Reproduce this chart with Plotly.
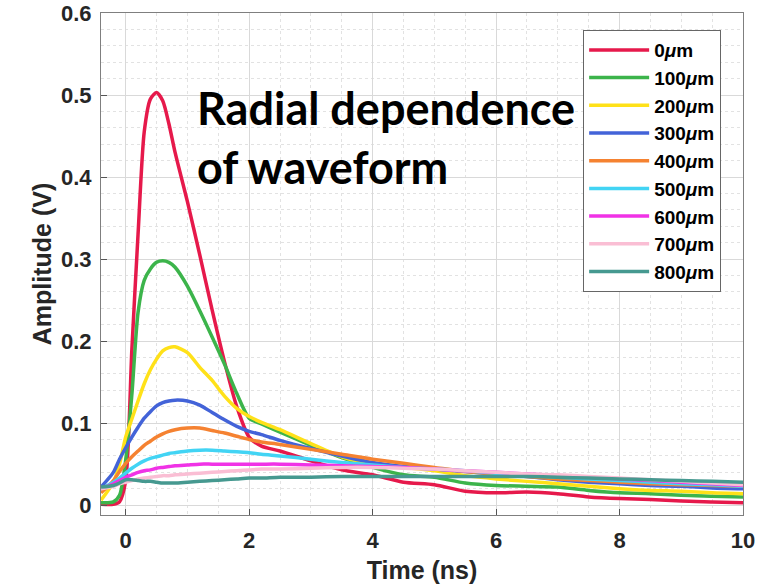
import plotly.graph_objects as go

time_ns = [-0.4, -0.2, -0.1, 0.0, 0.1, 0.2, 0.3, 0.4, 0.5, 0.6, 0.7, 0.8, 1.0, 1.2, 1.4, 1.6, 1.8,
           2.0, 2.2, 2.5, 3.0, 3.5, 4.0, 4.5, 5.0, 5.5, 6.0, 6.5, 7.0, 7.5, 8.0, 8.5, 9.0, 9.5, 10.0]

r0   = [0.001, 0.001, 0.004, 0.03, 0.19, 0.33, 0.455, 0.495, 0.503, 0.493, 0.465, 0.43, 0.37, 0.305, 0.238, 0.175, 0.12,
        0.083, 0.072, 0.066, 0.054, 0.043, 0.037, 0.028, 0.025, 0.017, 0.015, 0.016, 0.014, 0.010, 0.008, 0.007, 0.005, 0.004, 0.003]
r100 = [0.003, 0.004, 0.012, 0.055, 0.135, 0.235, 0.274, 0.288, 0.296, 0.298, 0.296, 0.290, 0.267, 0.237, 0.205, 0.172, 0.136,
        0.106, 0.099, 0.089, 0.073, 0.058, 0.046, 0.037, 0.034, 0.027, 0.024, 0.023, 0.022, 0.018, 0.015, 0.014, 0.012, 0.011, 0.010]
r200 = [0.006, 0.028, 0.05, 0.083, 0.105, 0.127, 0.148, 0.165, 0.178, 0.188, 0.192, 0.193, 0.186, 0.168, 0.152, 0.133, 0.118,
        0.108, 0.101, 0.092, 0.075, 0.059, 0.050, 0.046, 0.042, 0.036, 0.032, 0.029, 0.026, 0.023, 0.020, 0.018, 0.017, 0.015, 0.014]
r300 = [0.022, 0.04, 0.056, 0.070, 0.083, 0.095, 0.106, 0.114, 0.121, 0.125, 0.127, 0.128, 0.127, 0.122, 0.113, 0.104, 0.096,
        0.090, 0.086, 0.079, 0.069, 0.060, 0.052, 0.047, 0.044, 0.041, 0.038, 0.035, 0.031, 0.028, 0.026, 0.024, 0.023, 0.021, 0.020]
r400 = [0.015, 0.030, 0.041, 0.051, 0.059, 0.066, 0.073, 0.078, 0.083, 0.087, 0.090, 0.092, 0.094, 0.094, 0.091, 0.088, 0.084,
        0.080, 0.077, 0.074, 0.068, 0.062, 0.056, 0.051, 0.046, 0.041, 0.038, 0.035, 0.032, 0.030, 0.028, 0.026, 0.025, 0.024, 0.023]
r500 = [0.020, 0.028, 0.033, 0.039, 0.045, 0.050, 0.054, 0.057, 0.059, 0.061, 0.063, 0.064, 0.066, 0.067, 0.067, 0.066, 0.065,
        0.064, 0.062, 0.060, 0.056, 0.052, 0.049, 0.046, 0.044, 0.042, 0.039, 0.037, 0.034, 0.032, 0.030, 0.028, 0.026, 0.025, 0.023]
r600 = [0.020, 0.026, 0.030, 0.034, 0.037, 0.040, 0.042, 0.043, 0.045, 0.046, 0.047, 0.048, 0.049, 0.050, 0.050, 0.050, 0.050,
        0.050, 0.050, 0.050, 0.049, 0.048, 0.047, 0.046, 0.044, 0.042, 0.040, 0.038, 0.036, 0.034, 0.032, 0.030, 0.028, 0.026, 0.024]
r700 = [0.020, 0.023, 0.026, 0.028, 0.030, 0.032, 0.033, 0.034, 0.035, 0.036, 0.036, 0.037, 0.038, 0.039, 0.040, 0.041, 0.042,
        0.043, 0.044, 0.044, 0.045, 0.046, 0.046, 0.045, 0.044, 0.042, 0.040, 0.038, 0.037, 0.035, 0.033, 0.031, 0.029, 0.027, 0.025]
r800 = [0.022, 0.024, 0.027, 0.031, 0.031, 0.030, 0.029, 0.029, 0.028, 0.027, 0.027, 0.027, 0.028, 0.029, 0.030, 0.031, 0.032,
        0.033, 0.033, 0.034, 0.034, 0.035, 0.035, 0.035, 0.035, 0.035, 0.035, 0.035, 0.034, 0.033, 0.032, 0.031, 0.030, 0.029, 0.028]

series_values = [r0, r100, r200, r300, r400, r500, r600, r700, r800]
series_labels = ["0<i>μ</i>m", "100<i>μ</i>m", "200<i>μ</i>m", "300<i>μ</i>m", "400<i>μ</i>m",
                 "500<i>μ</i>m", "600<i>μ</i>m", "700<i>μ</i>m", "800<i>μ</i>m"]
series_colors = ["#e6194b", "#3cb44b", "#ffe119", "#4363d8", "#f58231",
                 "#42d4f4", "#f032e6", "#fabed4", "#469990"]

x_ticks = [0, 2, 4, 6, 8, 10]
y_ticks = [0, 0.1, 0.2, 0.3, 0.4, 0.5, 0.6]

fig = go.Figure()
for i, (vals, lab, col) in enumerate(zip(series_values, series_labels, series_colors)):
    fig.add_trace(go.Scatter(
        x=time_ns, y=vals, mode="lines", name=lab,
        line=dict(color=col, width=3.5, shape="spline", smoothing=0.7),
        legendgroup=f"g{i}",
    ))

FONT = "Liberation Sans, Arial"
axis_common = dict(
    showline=True, linecolor="#7f7f7f", linewidth=1, mirror=True,
    ticks="inside", ticklen=6, tickcolor="#555555",
    showgrid=True, gridcolor="#d9d9d9", gridwidth=1,
    zeroline=False, automargin=False,
    tickfont=dict(family=FONT, size=22, color="#262626", weight="bold"),
)

fig.update_xaxes(
    range=[-0.4, 10], tickvals=x_ticks, ticklabelstandoff=6,
    minor=dict(dtick=0.5, tick0=0, showgrid=True, gridcolor="#e2e2e2", griddash="dot", ticks=""),
    title=dict(text="Time (ns)", font=dict(family=FONT, size=25, color="#262626", weight="bold"), standoff=9),
    **axis_common,
)
fig.update_yaxes(
    range=[-0.012, 0.6], tickvals=y_ticks, ticklabelstandoff=4,
    minor=dict(dtick=0.02, tick0=0, showgrid=True, gridcolor="#e2e2e2", griddash="dot", ticks=""),
    title=dict(text="Amplitude (V)", font=dict(family=FONT, size=25, color="#262626", weight="bold"), standoff=2),
    **axis_common,
)

fig.add_annotation(
    xref="paper", yref="paper", x=0.146, y=0.752, xanchor="left", yanchor="middle",
    text="Radial dependence<br>of waveform", showarrow=False, align="left",
    font=dict(family="Lato", size=45, color="black", weight="bold"),
)

fig.update_layout(
    width=759, height=588,
    margin=dict(l=101, r=16, t=13, b=73),
    plot_bgcolor="white", paper_bgcolor="white",
    legend=dict(
        x=0.751, y=0.966, xanchor="left", yanchor="top",
        bgcolor="white", bordercolor="#666666", borderwidth=1,
        font=dict(family=FONT, size=19, color="black", weight="bold"),
        tracegroupgap=0, itemwidth=60,
    ),
)

fig.write_html("out.html")
